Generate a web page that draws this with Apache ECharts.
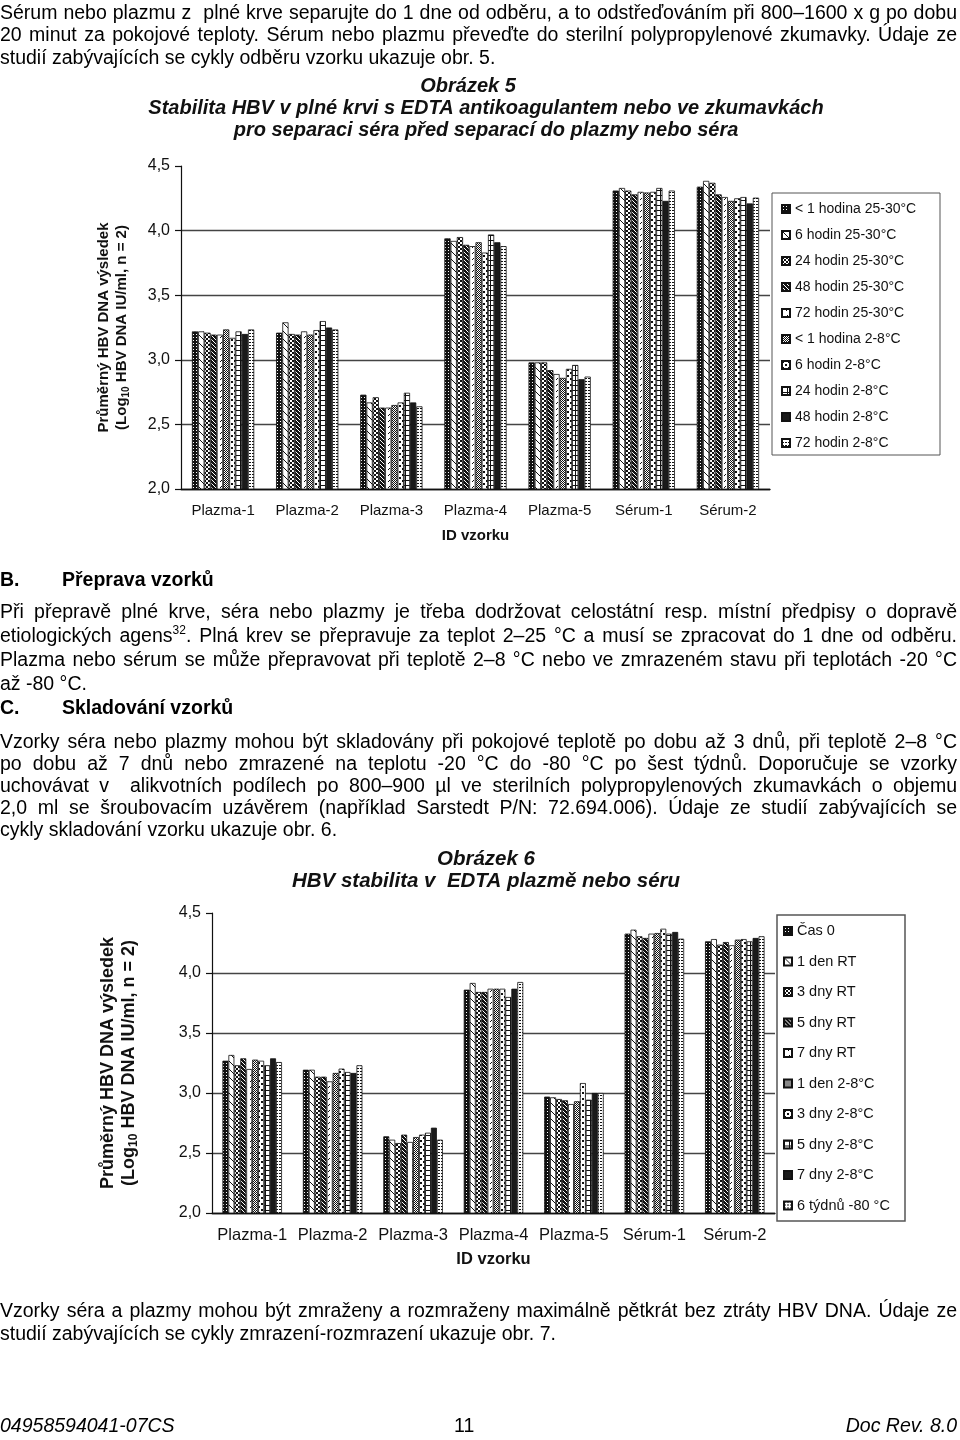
<!DOCTYPE html>
<html lang="cs">
<head>
<meta charset="utf-8">
<script src="https://cdn.jsdelivr.net/npm/echarts@6/dist/echarts.min.js"></script>
<style>
  html, body { margin: 0; padding: 0; background: #fff; }
  #page { position: relative; width: 960px; height: 1440px; overflow: hidden; background: #fff; }
  #chart { position: absolute; left: 0; top: 0; width: 960px; height: 1440px; }
  .ln { position: absolute; left: 0; width: 957px; font-family: "Liberation Sans", Arial, Helvetica, sans-serif;
        font-size: 19.5px; line-height: 22px; color: #000; white-space: nowrap; z-index: 2; }
  .j { text-align: justify; text-align-last: justify; }
  .b { font-weight: bold; }
  .i { font-style: italic; }
  sup { font-size: 12px; line-height: 0; position: relative; top: -1px; }
</style>
</head>
<body>
<div id="page">
  <div id="chart"></div>

  <div class="ln j" style="top:1px">Sérum nebo plazmu z&nbsp; plné krve separujte do 1 dne od odběru, a to odstřeďováním při 800–1600 x g po dobu</div>
  <div class="ln j" style="top:23px">20 minut za pokojové teploty. Sérum nebo plazmu převeďte do sterilní polypropylenové zkumavky. Údaje ze</div>
  <div class="ln" style="top:46px">studií zabývajících se cykly odběru vzorku ukazuje obr. 5.</div>

  <div class="ln b" style="top:568px">B.</div>
  <div class="ln b" style="top:568px;left:62px;width:auto">Přeprava vzorků</div>
  <div class="ln j" style="top:600px">Při přepravě plné krve, séra nebo plazmy je třeba dodržovat celostátní resp. místní předpisy o dopravě</div>
  <div class="ln j" style="top:624px">etiologických agens<sup>32</sup>. Plná krev se přepravuje za teplot 2–25 °C a musí se zpracovat do 1 dne od odběru.</div>
  <div class="ln j" style="top:648px">Plazma nebo sérum se může přepravovat při teplotě 2–8 °C nebo ve zmrazeném stavu při teplotách -20 °C</div>
  <div class="ln" style="top:672px">až -80 °C.</div>

  <div class="ln b" style="top:696px">C.</div>
  <div class="ln b" style="top:696px;left:62px;width:auto">Skladování vzorků</div>
  <div class="ln j" style="top:730px">Vzorky séra nebo plazmy mohou být skladovány při pokojové teplotě po dobu až 3 dnů, při teplotě 2–8 °C</div>
  <div class="ln j" style="top:752px">po dobu až 7 dnů nebo zmrazené na teplotu -20 °C do -80 °C po šest týdnů. Doporučuje se vzorky</div>
  <div class="ln j" style="top:774px">uchovávat v&nbsp; alikvotních podílech po 800–900 µl ve sterilních polypropylenových zkumavkách o objemu</div>
  <div class="ln j" style="top:796px">2,0 ml se šroubovacím uzávěrem (například Sarstedt P/N: 72.694.006). Údaje ze studií zabývajících se</div>
  <div class="ln" style="top:818px">cykly skladování vzorku ukazuje obr. 6.</div>

  <div class="ln j" style="top:1299px">Vzorky séra a plazmy mohou být zmraženy a rozmraženy maximálně pětkrát bez ztráty HBV DNA. Údaje ze</div>
  <div class="ln" style="top:1322px">studií zabývajících se cykly zmrazení-rozmrazení ukazuje obr. 7.</div>

  <div class="ln i" style="top:1414px">04958594041-07CS</div>
  <div class="ln" style="top:1414px;left:454px;width:auto">11</div>
  <div class="ln i" style="top:1414px;text-align:right">Doc Rev. 8.0</div>
</div>

<script>
// ---------- data ----------
const categories = ['Plazma-1', 'Plazma-2', 'Plazma-3', 'Plazma-4', 'Plazma-5', 'Sérum-1', 'Sérum-2'];
const yTickLabels = ['2,0', '2,5', '3,0', '3,5', '4,0', '4,5'];

// Obrázek 5 – series names
const fig5Names = ['< 1 hodina 25-30°C', '6 hodin 25-30°C', '24 hodin 25-30°C', '48 hodin 25-30°C', '72 hodin 25-30°C',
                   '< 1 hodina 2-8°C', '6 hodin 2-8°C', '24 hodin 2-8°C', '48 hodin 2-8°C', '72 hodin 2-8°C'];
const fig5_lt1h_RT  = [3.22, 3.21, 2.73, 3.94, 2.98, 4.31, 4.34];
const fig5_6h_RT    = [3.22, 3.29, 2.67, 3.92, 2.98, 4.33, 4.385];
const fig5_24h_RT   = [3.21, 3.20, 2.71, 3.95, 2.98, 4.31, 4.37];
const fig5_48h_RT   = [3.195, 3.195, 2.63, 3.89, 2.92, 4.28, 4.28];
const fig5_72h_RT   = [3.195, 3.22, 2.63, 3.88, 2.89, 4.30, 4.26];
const fig5_lt1h_2_8 = [3.235, 3.195, 2.65, 3.91, 2.86, 4.295, 4.23];
const fig5_6h_2_8   = [3.17, 3.23, 2.67, 3.83, 2.93, 4.30, 4.25];
const fig5_24h_2_8  = [3.22, 3.30, 2.745, 3.97, 2.96, 4.33, 4.26];
const fig5_48h_2_8  = [3.20, 3.25, 2.67, 3.91, 2.85, 4.23, 4.21];
const fig5_72h_2_8  = [3.235, 3.235, 2.64, 3.88, 2.87, 4.31, 4.255];

// Obrázek 6 – series names
const fig6Names = ['Čas 0', '1 den RT', '3 dny RT', '5 dny RT', '7 dny RT',
                   '1 den 2-8°C', '3 dny 2-8°C', '5 dny 2-8°C', '7 dny 2-8°C', '6 týdnů -80 °C'];
const fig6_t0      = [3.269, 3.194, 2.639, 3.861, 2.97, 4.328, 4.264];
const fig6_1d_RT   = [3.317, 3.194, 2.611, 3.917, 2.964, 4.361, 4.283];
const fig6_3d_RT   = [3.231, 3.136, 2.583, 3.842, 2.95, 4.306, 4.236];
const fig6_5d_RT   = [3.289, 3.136, 2.653, 3.842, 2.939, 4.292, 4.258];
const fig6_7d_RT   = [3.20, 3.097, 2.592, 3.869, 2.908, 4.328, 4.231];
const fig6_1d_2_8  = [3.278, 3.167, 2.633, 3.869, 2.931, 4.333, 4.278];
const fig6_3d_2_8  = [3.269, 3.203, 2.653, 3.869, 3.083, 4.369, 4.283];
const fig6_5d_2_8  = [3.231, 3.175, 2.669, 3.80, 2.944, 4.328, 4.264];
const fig6_7d_2_8  = [3.289, 3.167, 2.711, 3.869, 3.0, 4.342, 4.292];
const fig6_6w_m80  = [3.258, 3.231, 2.611, 3.925, 3.0, 4.286, 4.306];

const fig5Values = [fig5_lt1h_RT, fig5_6h_RT, fig5_24h_RT, fig5_48h_RT, fig5_72h_RT,
                    fig5_lt1h_2_8, fig5_6h_2_8, fig5_24h_2_8, fig5_48h_2_8, fig5_72h_2_8];
const fig6Values = [fig6_t0, fig6_1d_RT, fig6_3d_RT, fig6_5d_RT, fig6_7d_RT,
                    fig6_1d_2_8, fig6_3d_2_8, fig6_5d_2_8, fig6_7d_2_8, fig6_6w_m80];

// ---------- hatch patterns (style only) ----------
function pattern(size, bg, px) {
  const c = document.createElement('canvas');
  c.width = size; c.height = size;
  const g = c.getContext('2d');
  g.fillStyle = bg; g.fillRect(0, 0, size, size);
  g.fillStyle = bg === '#fff' ? '#111' : '#fff';
  px.forEach(p => g.fillRect(p[0], p[1], p[2] || 1, p[3] || 1));
  return { image: c, repeat: 'repeat' };
}
const patterns = [
  pattern(3, '#111', [[1, 1]]),                                         // dark grid
  pattern(8, '#fff', [[0,0],[1,1],[2,2],[3,3],[4,4],[5,5],[6,6],[7,7]]), // sparse diagonal
  pattern(4, '#fff', [[0,0,2,2],[2,2,2,2]]),                             // coarse checker
  pattern(4, '#111', [[0,0],[1,1],[2,2],[3,3]]),                         // dark diagonal
  pattern(6, '#fff', [[5,0],[4,1]]),                                     // dashed diagonal
  pattern(2, '#fff', [[0,0],[1,1]]),                                     // fine checker
  pattern(6, '#fff', [[0,0,2,2],[3,3,2,2]]),                             // big dots
  pattern(5, '#fff', [[0,0,5,1],[0,0,1,5]]),                             // bricks
  '#1a1a1a',                                                             // solid
  pattern(3, '#fff', [[0,0],[1,0]])                                      // fine dotted grid
];

// ---------- build ----------
const axisFont = '"Liberation Sans", Arial, Helvetica, sans-serif';
function yAxisDef(gridIndex, nameFont, nameGap, labelFont) {
  return {
    type: 'value', gridIndex, min: 2, max: 4.5, interval: 0.5,
    axisLine: { show: true, lineStyle: { color: '#111', width: 1.2 } },
    axisTick: { show: true, length: 6, lineStyle: { color: '#111', width: 1.2 } },
    axisLabel: { margin: 11, fontSize: labelFont, color: '#111', fontFamily: axisFont,
                 formatter: v => yTickLabels[Math.round((v - 2) / 0.5)] },
    splitLine: { show: true, lineStyle: { color: ['#111', '#444', '#444', '#444', '#444', 'rgba(0,0,0,0)'], width: 1.4 } },
    name: '{a|Průměrný HBV DNA výsledek}\n{a|(Log}{s|10}{a| HBV DNA IU/ml, n = 2)}',
    nameLocation: 'middle', nameRotate: 90, nameGap,
    nameTextStyle: {
      rich: {
        a: { fontSize: nameFont, fontWeight: 'bold', color: '#111', fontFamily: axisFont, lineHeight: nameFont + 3 },
        s: { fontSize: Math.round(nameFont * 0.65), fontWeight: 'bold', color: '#111', fontFamily: axisFont,
             verticalAlign: 'bottom', padding: [Math.round(nameFont * 0.45), 0, 0, 0], lineHeight: nameFont + 3 }
      }
    }
  };
}
function xAxisDef(gridIndex, labelFont, nameGap) {
  return {
    type: 'category', gridIndex, data: categories,
    axisLine: { show: true, lineStyle: { color: '#111', width: 1.4 } },
    axisTick: { show: false },
    axisLabel: { margin: 14, interval: 0, fontSize: labelFont, color: '#111', fontFamily: axisFont },
    name: 'ID vzorku', nameLocation: 'middle', nameGap,
    nameTextStyle: { fontSize: labelFont, fontWeight: 'bold', color: '#111', fontFamily: axisFont }
  };
}

const series = [];
fig5Names.forEach((n, i) => series.push({
  name: n, type: 'bar', xAxisIndex: 0, yAxisIndex: 0, data: fig5Values[i],
  barGap: '0%', barCategoryGap: '26%',
  itemStyle: { color: patterns[i], borderColor: '#111', borderWidth: 0.8 }
}));
fig6Names.forEach((n, i) => series.push({
  name: n, type: 'bar', xAxisIndex: 1, yAxisIndex: 1, data: fig6Values[i],
  barGap: '0%', barCategoryGap: '26%',
  itemStyle: { color: patterns[i], borderColor: '#111', borderWidth: 0.8 }
}));

const titleStyle5 = { fontSize: 20, fontWeight: 'bold', fontStyle: 'italic', color: '#111', fontFamily: axisFont, lineHeight: 22.5 };
const titleStyle6 = { fontSize: 20.5, fontWeight: 'bold', fontStyle: 'italic', color: '#111', fontFamily: axisFont, lineHeight: 22.5 };

const chart = echarts.init(document.getElementById('chart'), null, { renderer: 'canvas' });
chart.setOption({
  animation: false,
  backgroundColor: '#fff',
  title: [
    { text: 'Obrázek 5', left: 463, top: 70, textAlign: 'center', textStyle: titleStyle5 },
    { text: 'Stabilita HBV v plné krvi s EDTA antikoagulantem nebo ve zkumavkách\npro separaci séra před separací do plazmy nebo séra',
      left: 481, top: 92, textAlign: 'center', textStyle: titleStyle5 },
    { text: 'Obrázek 6\nHBV stabilita v  EDTA plazmě nebo séru',
      left: 481, top: 843, textAlign: 'center', textStyle: titleStyle6 }
  ],
  grid: [
    { left: 181, top: 166, width: 589, height: 323, containLabel: false },
    { left: 212, top: 913, width: 563, height: 300, containLabel: false }
  ],
  xAxis: [xAxisDef(0, 15, 39), xAxisDef(1, 16.5, 38)],
  yAxis: [yAxisDef(0, 15, 50, 16), yAxisDef(1, 18, 72, 16)],
  legend: [
    { data: fig5Names, orient: 'vertical', left: 781, top: 201, padding: 0,
      itemWidth: 8, itemHeight: 8, itemGap: 10, icon: 'rect', selectedMode: false,
      textStyle: { fontSize: 14, color: '#111', fontFamily: axisFont, lineHeight: 16 } },
    { data: fig6Names, orient: 'vertical', left: 783, top: 923, padding: 0,
      itemWidth: 8, itemHeight: 8, itemGap: 14.5, icon: 'rect', selectedMode: false,
      textStyle: { fontSize: 14.5, color: '#111', fontFamily: axisFont, lineHeight: 16 } }
  ],
  graphic: [
    { type: 'rect', z: 1, shape: { x: 772, y: 193, width: 168, height: 262 },
      style: { fill: '#fff', stroke: '#555', lineWidth: 1 } },
    { type: 'rect', z: 1, shape: { x: 777, y: 915, width: 128, height: 306 },
      style: { fill: '#fff', stroke: '#555', lineWidth: 1.5 } }
  ],
  series
});
</script>
</body>
</html>
